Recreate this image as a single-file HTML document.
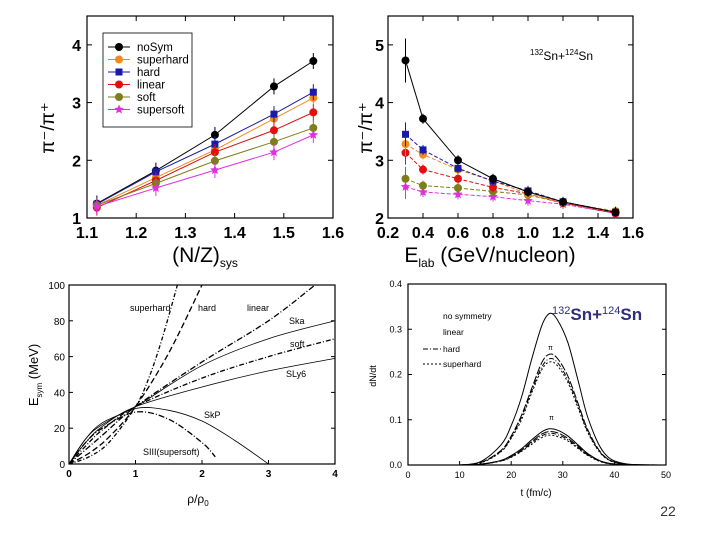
<!DOCTYPE html>
<html><head><meta charset="utf-8"><style>
body{margin:0;background:#fff}
svg{display:block;font-family:"Liberation Sans",sans-serif}
</style></head><body>
<svg id="s" width="720" height="540" xmlns="http://www.w3.org/2000/svg"></svg>
<script>
// ---- Panel A data (pi-/pi+ vs N/Z) ----
const nzX=[1.12,1.24,1.36,1.48,1.56];
const aNoSym=[1.25,1.82,2.44,3.28,3.72];
const aSuperhard=[1.22,1.70,2.18,2.72,3.08];
const aHard=[1.24,1.80,2.28,2.80,3.18];
const aLinear=[1.18,1.65,2.14,2.52,2.83];
const aSoft=[1.22,1.60,1.99,2.32,2.56];
const aSupersoft=[1.20,1.52,1.83,2.14,2.44];
const aXTicks=["1.1","1.2","1.3","1.4","1.5","1.6"];
const aYTicks=["1","2","3","4"];
// ---- Panel B data (pi-/pi+ vs Elab) ----
const eX=[0.3,0.4,0.6,0.8,1.0,1.2,1.5];
const bNoSym=[4.73,3.72,3.00,2.68,2.45,2.28,2.10];
const bHard=[3.45,3.18,2.86,2.64,2.47,2.28,2.10];
const bSuperhard=[3.28,3.10,2.84,2.64,2.42,2.27,2.12];
const bLinear=[3.13,2.84,2.68,2.53,2.42,2.26,2.08];
const bSoft=[2.68,2.56,2.52,2.46,2.40,2.26,2.10];
const bSupersoft=[2.54,2.45,2.41,2.37,2.30,2.24,2.08];
const bXTicks=["0.2","0.4","0.6","0.8","1.0","1.2","1.4","1.6"];
const bYTicks=["2","3","4","5"];
// ---- Panel C data (Esym vs rho/rho0) ----
const cSuperhardU=[0,0.3,0.6,1,1.2,1.4,1.63], cSuperhardE=[0,4,12,32,48,70,100];
const cHardU=[0,0.3,0.6,1,1.5,2.0], cHardE=[0,6,15,32,62,100];
const cLinearU=[0,0.5,1,2,3,3.7], cLinearE=[0,16,32,57,80,100];
const cSkaU=[0,0.25,0.5,1,2,3,4], cSkaE=[0,14,23,32,55,70,80];
const cSoftU=[0,0.25,0.5,1,2,3,4], cSoftE=[0,10,19,32,48,60,70];
const cSly6U=[0,0.25,0.5,1,2,3,4], cSly6E=[0,12,21,32,43,52,59];
const cSkpU=[0,0.25,0.5,1,1.5,2,2.5,3], cSkpE=[0,14,22,31,30,24,13,0];
const cSiiiU=[0,0.25,0.5,1,1.5,2,2.2], cSiiiE=[0,12,20,29,25,12,4];
const cXTicks=["0","1","2","3","4"];
const cYTicks=["0","20","40","60","80","100"];
// ---- Panel D data (dN/dt vs t) ----
const dT=[10,14,18,20,22,24,26,27.5,29,31,33,35,38,42,50];
const dPmNoSym=[0,0.007,0.044,0.087,0.15,0.235,0.31,0.335,0.32,0.27,0.185,0.1,0.027,0.003,0];
const dPmLinear=[0,0.005,0.032,0.064,0.11,0.17,0.228,0.245,0.235,0.196,0.135,0.074,0.02,0.002,0];
const dPmHard=[0,0.005,0.03,0.061,0.106,0.165,0.218,0.235,0.226,0.188,0.13,0.07,0.019,0.002,0];
const dPmSuperhard=[0,0.004,0.029,0.059,0.1,0.16,0.212,0.228,0.219,0.182,0.125,0.068,0.018,0.002,0];
const dPpNoSym=[0,0.002,0.01,0.021,0.036,0.056,0.074,0.08,0.077,0.064,0.044,0.024,0.006,0.001,0];
const dPpLinear=[0,0.0015,0.0096,0.019,0.033,0.052,0.069,0.074,0.071,0.059,0.041,0.022,0.006,0.001,0];
const dPpHard=[0,0.0014,0.009,0.018,0.031,0.049,0.065,0.07,0.067,0.056,0.038,0.021,0.0056,0.0007,0];
const dPpSuperhard=[0,0.0013,0.0086,0.017,0.03,0.046,0.061,0.066,0.063,0.053,0.036,0.02,0.005,0.0007,0];
const dXTicks=["0","10","20","30","40","50"];
const dYTicks=["0.0","0.1","0.2","0.3","0.4"];

const S=document.getElementById('s');const NS="http://www.w3.org/2000/svg";
function mk(tag,at,parent){const e=document.createElementNS(NS,tag);for(const k in at)e.setAttribute(k,at[k]);(parent||S).appendChild(e);return e;}
function txt(x,y,t,at,parent){const e=mk('text',Object.assign({x:x,y:y},at||{}),parent);e.textContent=t;return e;}
function scale(d0,d1,r0,r1){return v=>r0+(v-d0)*(r1-r0)/(d1-d0);}
function smooth(pts){let d='M'+pts[0][0]+','+pts[0][1];for(let i=0;i<pts.length-1;i++){const p0=pts[i-1]||pts[i],p1=pts[i],p2=pts[i+1],p3=pts[i+2]||p2;
d+=' C'+(p1[0]+(p2[0]-p0[0])/6)+','+(p1[1]+(p2[1]-p0[1])/6)+' '+(p2[0]-(p3[0]-p1[0])/6)+','+(p2[1]-(p3[1]-p1[1])/6)+' '+p2[0]+','+p2[1];}return d;}
function star(cx,cy,r,fill,g){let p=[];for(let i=0;i<10;i++){const a=-Math.PI/2+i*Math.PI/5,rr=i%2?r*0.45:r;p.push((cx+rr*Math.cos(a))+','+(cy+rr*Math.sin(a)));}mk('polygon',{points:p.join(' '),fill:fill},g);}
function frame(x0,y0,x1,y1,name){const r=mk('rect',{x:x0,y:y0,width:x1-x0,height:y1-y0,fill:'none',stroke:'#000','stroke-width':1.2});

}
function marker(type,px,py,col,g){if(type=='s')mk('rect',{x:px-3.5,y:py-3.5,width:7,height:7,fill:col},g);else if(type=='st')star(px,py,5,col,g);else mk('circle',{cx:px,cy:py,r:4,fill:col},g);}

// Panel A
(function(){
const X=scale(1.1,1.6,87,333),Y=scale(1,4.5,218,16);
frame(87,16,333,218,'panel-a-frame');
aXTicks.forEach(t=>{const x=X(+t);mk('line',{x1:x,x2:x,y1:218,y2:213,stroke:'#000'});mk('line',{x1:x,x2:x,y1:16,y2:21,stroke:'#000'});
const e=txt(x,238,t,{'text-anchor':'middle','font-size':16,'font-weight':'bold'});});
aYTicks.forEach(t=>{const y=Y(+t);mk('line',{x1:87,x2:92,y1:y,y2:y,stroke:'#000'});mk('line',{x1:333,x2:328,y1:y,y2:y,stroke:'#000'});
const e=txt(81,y+6,t,{'text-anchor':'end','font-size':16,'font-weight':'bold'});});
const series=[[aNoSym,'#000','noSym','c'],[aSuperhard,'#f28a1e','superhard','c'],[aHard,'#1a1aa8','hard','s'],[aLinear,'#e01010','linear','c'],[aSoft,'#7d7d1a','soft','c'],[aSupersoft,'#e030e0','supersoft','st']];
series.forEach((s,i)=>{const g=mk('g',{});
mk('polyline',{points:nzX.map((x,j)=>X(x)+','+Y(s[0][j])).join(' '),fill:'none',stroke:s[1],'stroke-width':1},g);
nzX.forEach((x,j)=>{const px=X(x),py=Y(s[0][j]);mk('line',{x1:px,x2:px,y1:py-8,y2:py+8,stroke:s[1]},g);marker(s[3],px,py,s[1],g);});
const ly=47+i*12.5;mk('line',{x1:108,x2:130,y1:ly,y2:ly,stroke:s[1]},g);marker(s[3],119,ly,s[1],g);
txt(137,ly+4,s[2],{'font-size':11.5},g);});
const lb=mk('rect',{x:103,y:33,width:89,height:94,fill:'none',stroke:'#000','stroke-width':0.8});
const yl=txt(0,0,'π⁻/π⁺',{transform:'translate(54,128) rotate(-90)','font-size':19,'text-anchor':'middle'});
const xl=mk('text',{x:205,y:262,'text-anchor':'middle','font-size':21});xl.innerHTML='(N/Z)<tspan font-size="12" dy="5">sys</tspan>';
})();

// Panel B
(function(){
const X=scale(0.2,1.6,388,633),Y=scale(2,5.5,218,16);
frame(388,16,633,218,'panel-b-frame');
bXTicks.forEach(t=>{const x=X(+t);mk('line',{x1:x,x2:x,y1:218,y2:213,stroke:'#000'});mk('line',{x1:x,x2:x,y1:16,y2:21,stroke:'#000'});
const e=txt(x,238,t,{'text-anchor':'middle','font-size':16,'font-weight':'bold'});});
bYTicks.forEach(t=>{const y=Y(+t);mk('line',{x1:388,x2:393,y1:y,y2:y,stroke:'#000'});mk('line',{x1:633,x2:628,y1:y,y2:y,stroke:'#000'});
const e=txt(384,y+6,t,{'text-anchor':'end','font-size':16,'font-weight':'bold'});});
const series=[[bSupersoft,'#e030e0','supersoft','st'],[bSoft,'#7d7d1a','soft','c'],[bLinear,'#e01010','linear','c'],[bSuperhard,'#f28a1e','superhard','c'],[bHard,'#1a1aa8','hard','s'],[bNoSym,'#000','noSym','c']];
series.forEach(s=>{const g=mk('g',{});
mk('polyline',{points:eX.map((x,j)=>X(x)+','+Y(s[0][j])).join(' '),fill:'none',stroke:s[1],'stroke-width':1,'stroke-dasharray':s[2]=='noSym'?'':'4 2'},g);
eX.forEach((x,j)=>{const px=X(x),py=Y(s[0][j]);const er=j==0?(s[2]=='noSym'?22:12):5;mk('line',{x1:px,x2:px,y1:py-er,y2:py+er,stroke:s[1]},g);marker(s[3],px,py,s[1],g);});});
const ann=mk('text',{x:530,y:60,'font-size':12});ann.innerHTML='<tspan font-size="8" dy="-5">132</tspan><tspan dy="5">Sn+</tspan><tspan font-size="8" dy="-5">124</tspan><tspan dy="5">Sn</tspan>';
const yl=txt(0,0,'π⁻/π⁺',{transform:'translate(372,128) rotate(-90)','font-size':19,'text-anchor':'middle'});
const xl=mk('text',{x:490,y:262,'text-anchor':'middle','font-size':21});xl.innerHTML='E<tspan font-size="12" dy="5">lab</tspan><tspan dy="-5"> (GeV/nucleon)</tspan>';
})();

// Panel C
(function(){
const X=scale(0,4,69,335),Y=scale(0,100,464,285);
frame(69,285,335,464,'panel-c-frame');
cXTicks.forEach(t=>{const x=X(+t);mk('line',{x1:x,x2:x,y1:464,y2:460,stroke:'#000'});
const e=txt(x,477,t,{'text-anchor':'middle','font-size':10,'font-weight':'bold'});});
cYTicks.forEach(t=>{const y=Y(+t);mk('line',{x1:69,x2:73,y1:y,y2:y,stroke:'#000'});mk('line',{x1:335,x2:331,y1:y,y2:y,stroke:'#000'});
const e=txt(65,y+4,t,{'text-anchor':'end','font-size':10});});
const curves=[[cSuperhardU,cSuperhardE,'4 2 1 2','superhard'],[cHardU,cHardE,'6 3','hard'],[cLinearU,cLinearE,'6 2 1 2','linear'],[cSkaU,cSkaE,'','Ska'],[cSoftU,cSoftE,'5 2 1 2','soft'],[cSly6U,cSly6E,'','SLy6'],[cSkpU,cSkpE,'','SkP'],[cSiiiU,cSiiiE,'6 2 1 2','SIII']];
curves.forEach(c=>{const p=mk('path',{d:smooth(c[0].map((u,j)=>[X(u),Y(c[1][j])])),fill:'none',stroke:'#000','stroke-width':c[2]?1.3:0.8,'stroke-dasharray':c[2]});

});
[['superhard',130,311],['hard',198,311],['linear',247,311],['Ska',289,324],['soft',290,347],['SLy6',286,377],['SkP',204,418],['SIII(supersoft)',143,455]].forEach(l=>{const e=txt(l[1],l[2],l[0],{'font-size':9});});
const yl=mk('text',{transform:'translate(38,375) rotate(-90)','text-anchor':'middle','font-size':13});yl.innerHTML='E<tspan font-size="8" dy="4">sym</tspan><tspan dy="-4"> (MeV)</tspan>';
const xl=mk('text',{x:198,y:503,'text-anchor':'middle','font-size':12});xl.innerHTML='ρ/ρ<tspan font-size="8" dy="3">0</tspan>';
})();

// Panel D
(function(){
const X=scale(0,50,408,666),Y=scale(0,0.4,465,284);
frame(408,284,666,465,'panel-d-frame');
dXTicks.forEach(t=>{const x=X(+t);mk('line',{x1:x,x2:x,y1:465,y2:461,stroke:'#000'});
const e=txt(x,478,t,{'text-anchor':'middle','font-size':9});});
dYTicks.forEach(t=>{const y=Y(+t);mk('line',{x1:408,x2:412,y1:y,y2:y,stroke:'#000'});mk('line',{x1:666,x2:662,y1:y,y2:y,stroke:'#000'});
const e=txt(402,y+3,t,{'text-anchor':'end','font-size':9});});
const curves=[[dPmNoSym,'','pi-minus-nosym'],[dPmLinear,'8 2','pi-minus-linear'],[dPmHard,'5 2 1 2','pi-minus-hard'],[dPmSuperhard,'2 2','pi-minus-superhard'],[dPpNoSym,'','pi-plus-nosym'],[dPpLinear,'8 2','pi-plus-linear'],[dPpHard,'5 2 1 2','pi-plus-hard'],[dPpSuperhard,'2 2','pi-plus-superhard']];
curves.forEach(c=>{const p=mk('path',{d:smooth(dT.map((t,j)=>[X(t),Y(c[0][j])])),fill:'none',stroke:'#000','stroke-width':1,'stroke-dasharray':c[1]});

});
[['no symmetry',319,''],['linear',335,''],['hard',352,'5 2 1 2'],['superhard',367,'2 2']].forEach(l=>{const e=txt(443,l[1],l[0],{'font-size':8.5});
if(l[2])mk('line',{x1:423,x2:441,y1:l[1]-3,y2:l[1]-3,stroke:'#000','stroke-dasharray':l[2]});});
txt(548,350,'π',{'font-size':7});txt(549,420,'π',{'font-size':7});
const r=mk('text',{x:552,y:320,'font-size':17,'font-weight':'bold',fill:'#2e2e7a'});r.innerHTML='<tspan font-size="11" font-weight="normal" dy="-6">132</tspan><tspan dy="6">Sn+</tspan><tspan font-size="11" font-weight="normal" dy="-6">124</tspan><tspan dy="6">Sn</tspan>';
const yl=txt(0,0,'dN/dt',{transform:'translate(376,376) rotate(-90)','text-anchor':'middle','font-size':9});
const xl=txt(536,496,'t (fm/c)',{'text-anchor':'middle','font-size':10});
})();
const pn=txt(668,516,'22',{'text-anchor':'middle','font-size':14,fill:'#333'});


</script>
</body></html>
